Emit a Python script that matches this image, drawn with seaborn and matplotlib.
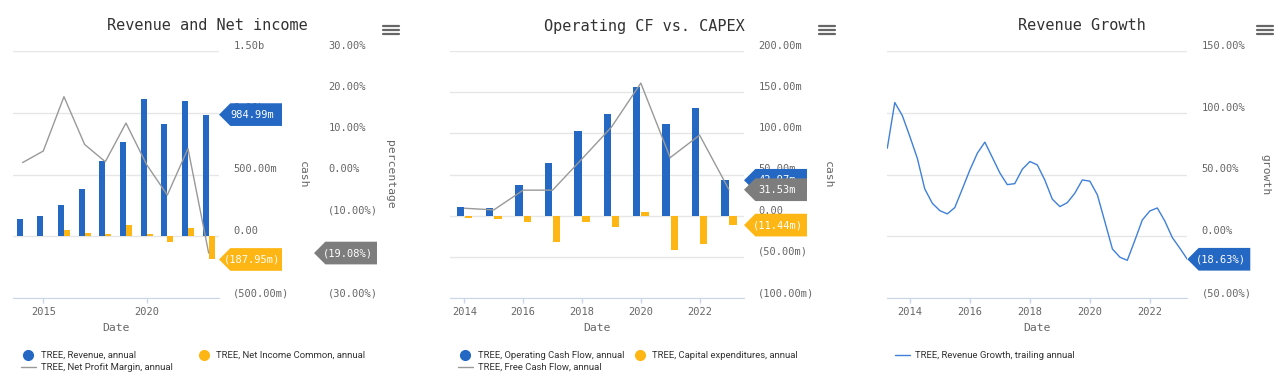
import numpy as np
import pandas as pd
import seaborn as sns
import matplotlib.pyplot as plt
from matplotlib.lines import Line2D
from matplotlib.path import Path
from matplotlib.transforms import ScaledTranslation

# %% data (cash in millions, ratios in percent)
years = [2014, 2015, 2016, 2017, 2018, 2019, 2020, 2021, 2022, 2023]
revenue = [138, 163, 254, 380, 612, 762, 1108, 905, 1098, 984.99]
net_income = [4, 3, 49, 30, 16, 95, 16, -43, 68, -187.95]
net_margin = [2.9, 5.7, 18.9, 7.3, 3.1, 12.5, 2.4, -5.0, 6.3, -19.08]

op_cf = [10.2, 9.0, 37, 64, 103, 123, 156, 111, 131, 42.97]
capex = [-2.4, -3.6, -7.3, -31.6, -8.0, -14.0, 4.5, -41.7, -35.0, -11.44]
fcf = [9, 7, 31, 31, 69, 107.5, 161, 70.5, 97.8, 31.53]

growth_dates = pd.date_range("2013-03-31", periods=41, freq="QE")
growth = [71.3, 108.3, 97.7, 80.7, 63.2, 38.3, 26.7, 20.7, 18.1, 23.2,
          38.3, 53.7, 67.3, 76.2, 63.7, 51.1, 41.8, 42.6, 54.3, 60.5,
          57.8, 45.6, 30.0, 24.0, 27.2, 34.8, 45.6, 44.6, 33.5, 11.8,
          -10.3, -17.0, -19.5, -3.5, 13.2, 20.5, 22.9, 12.4, -1.1, -9.7, -18.63]

BLUE = "#2468c4"
ORANGE = "#fdb614"
GRAY = "#999999"
BADGE_GRAY = "#7d7d7d"
LINE_BLUE = "#3f80d8"
TXT = "#666666"
MONO = "DejaVu Sans Mono"
LEG_FONT = ["Roboto", "DejaVu Sans"]

sns.set_style("white")
plt.rcParams["font.family"] = ["DejaVu Sans Mono", "DejaVu Sans"]

W, H = 1280, 379
fig = plt.figure(figsize=(12.8, 3.79), dpi=100)


def fx(px):
    return px / W


def fy(py):
    return 1 - py / H


def cash_fmt(v):
    if v == 0:
        return "0.00"
    a = abs(v)
    s = f"{a / 1000:.2f}b" if a >= 1000 else f"{a:.2f}m"
    return f"({s})" if v < 0 else s


def pct_fmt(v):
    if v == 0:
        return "0.00%"
    s = f"{abs(v):.2f}%"
    return f"({s})" if v < 0 else s


def tag(x0, y0, width, height, mutation_size):
    # fixed-size price tag, pointing left
    cx = x0 + width / 2
    cy = y0 + height / 2
    k = mutation_size / 10.42
    tip = cx - 33.5 * k
    half = 11.35 * k
    right = cx + 29.5 * k
    left = tip + half
    verts = [(left, cy - half), (right, cy - half), (right, cy + half),
             (left, cy + half), (tip, cy), (left, cy - half)]
    return Path(verts, closed=True)


def badge(ax, y, text, color, shift=0, host=None):
    host = host or ax
    ax.annotate(text, xy=(1, y), xycoords=host.get_yaxis_transform(),
                xytext=(shift + 33.5, 0), textcoords="offset pixels",
                ha="center", va="center", color="white", fontsize=7.5,
                family=MONO, zorder=20, annotation_clip=False,
                bbox=dict(boxstyle=tag, fc=color, ec="none"))


def right_ticks(ax, yticks, fmt):
    ax.yaxis.tick_right()
    ax.set_yticks(yticks)
    ax.set_yticklabels([fmt(t) for t in yticks])
    ax.tick_params(axis="y", length=0, pad=10.3, labelsize=7.5, labelcolor=TXT)
    for lab in ax.get_yticklabels():
        lab.set_transform(lab.get_transform() + ScaledTranslation(0, 0.06, fig.dpi_scale_trans))


def style_axes(ax, xticks, xlim, yticks, fmt):
    ax.set_xlim(*xlim)
    ax.set_ylim(yticks[0], yticks[-1])
    ax.set_xticks(xticks)
    ax.set_xticklabels([str(t) for t in xticks])
    right_ticks(ax, yticks, fmt)
    ax.grid(axis="y", color="#e6e6e6", lw=1)
    ax.grid(axis="x", visible=False)
    ax.set_axisbelow(True)
    for s in ["top", "left", "right"]:
        ax.spines[s].set_visible(False)
    ax.spines["bottom"].set_color("#ccd6eb")
    ax.tick_params(axis="x", length=3.6, width=1, color="#ccd6eb", pad=3,
                   labelsize=7.5, labelcolor=TXT, bottom=True)
    ax.set_xlabel("Date", fontsize=8.2, color=TXT, labelpad=4)
    ax.set_ylabel("")


def side_title(ax, x, text):
    ax.text(x, 0.5, text, transform=ax.transAxes, rotation=270, ha="center",
            va="center", fontsize=8.2, color=TXT)


def menu_icon(cx, cy):
    for dy in (-4.3, 0, 4.3):
        fig.add_artist(Line2D([fx(cx - 8), fx(cx + 8)], [fy(cy + dy)] * 2,
                              transform=fig.transFigure, color="#666666", lw=1.6))


def legend_block(x_px, handles, labels):
    leg = fig.legend(handles, labels, loc="upper left",
                     bbox_to_anchor=(fx(x_px), fy(351)), bbox_transform=fig.transFigure,
                     frameon=False, borderpad=0, borderaxespad=0, handlelength=1.55,
                     handletextpad=0.55, labelspacing=0.3,
                     prop={"family": LEG_FONT, "size": 6.8})
    for t in leg.get_texts():
        t.set_color("#333333")


dot = lambda c: Line2D([], [], marker="o", ls="", color=c, markersize=7)
dash = lambda c: Line2D([], [], color=c, lw=1)

ax_top, ax_h = fy(298), 247 / H

# %% panel 1: revenue and net income
ax1 = fig.add_axes([fx(13.3), ax_top, fx(205.7), ax_h])
ax1b = ax1.twinx()
df1 = pd.DataFrame({"year": years * 2,
                    "value": revenue + net_income,
                    "series": ["Revenue"] * len(years) + ["Net Income"] * len(years)})
sns.barplot(data=df1, x="year", y="value", hue="series", native_scale=True,
            width=0.58, gap=0, palette=[BLUE, ORANGE], saturation=1,
            legend=False, ax=ax1, linewidth=0)
style_axes(ax1, [2015, 2020], (2013.55, 2023.5), [-500, 0, 500, 1000, 1500], cash_fmt)

sns.lineplot(x=years, y=net_margin, color=GRAY, lw=1, ax=ax1b)
ax1b.set_ylim(-30, 30)
ax1b.spines["right"].set_position(("outward", 95 * 0.72))
right_ticks(ax1b, [-30, -20, -10, 0, 10, 20, 30], pct_fmt)
for s in ax1b.spines.values():
    s.set_visible(False)
ax1b.grid(False)
ax1b.set_ylabel("")
side_title(ax1, 1.408, "cash")
side_title(ax1, 1.831, "percentage")
# all tags on the twin so they sit above its line and labels
badge(ax1b, revenue[-1], cash_fmt(revenue[-1]), BLUE, host=ax1)
badge(ax1b, net_income[-1], cash_fmt(net_income[-1]), ORANGE, host=ax1)
badge(ax1b, net_margin[-1], pct_fmt(net_margin[-1]), BADGE_GRAY, shift=95)
fig.text(fx(207.5), fy(26), "Revenue and Net income", ha="center", va="center",
         fontsize=11, color="#333333")
menu_icon(391, 30)
legend_block(21, [dot(BLUE), dash(GRAY)],
             ["TREE, Revenue, annual", "TREE, Net Profit Margin, annual"])
legend_block(196.5, [dot(ORANGE)], ["TREE, Net Income Common, annual"])

# %% panel 2: operating cf vs capex
ax2 = fig.add_axes([fx(450), ax_top, fx(294), ax_h])
df2 = pd.DataFrame({"year": years * 2,
                    "value": op_cf + capex,
                    "series": ["Operating CF"] * len(years) + ["Capex"] * len(years)})
sns.barplot(data=df2, x="year", y="value", hue="series", native_scale=True,
            width=0.56, gap=0.1, palette=[BLUE, ORANGE], saturation=1,
            legend=False, ax=ax2, linewidth=0)
sns.lineplot(x=years, y=fcf, color=GRAY, lw=1, ax=ax2)
style_axes(ax2, [2014, 2016, 2018, 2020, 2022], (2013.51, 2023.51),
           [-100, -50, 0, 50, 100, 150, 200], cash_fmt)
side_title(ax2, 1.286, "cash")
badge(ax2, op_cf[-1], cash_fmt(op_cf[-1]), BLUE)
badge(ax2, fcf[-1], cash_fmt(fcf[-1]), BADGE_GRAY)
badge(ax2, capex[-1], cash_fmt(capex[-1]), ORANGE)
fig.text(fx(644), fy(26), "Operating CF vs. CAPEX", ha="center", va="center",
         fontsize=11, color="#333333")
menu_icon(827, 30)
legend_block(458, [dot(BLUE), dash(GRAY)],
             ["TREE, Operating Cash Flow, annual", "TREE, Free Cash Flow, annual"])
legend_block(632.5, [dot(ORANGE)], ["TREE, Capital expenditures, annual"])

# %% panel 3: revenue growth
gx = growth_dates.year + (growth_dates.dayofyear - 1) / 365.25
ax3 = fig.add_axes([fx(887.3), ax_top, fx(300), ax_h])
sns.lineplot(x=gx, y=growth, color=LINE_BLUE, lw=1, ax=ax3)
style_axes(ax3, [2014, 2016, 2018, 2020, 2022], (gx.min(), gx.max()),
           [-50, 0, 50, 100, 150], pct_fmt)
side_title(ax3, 1.259, "growth")
badge(ax3, growth[-1], pct_fmt(growth[-1]), BLUE)
fig.text(fx(1081.7), fy(26), "Revenue Growth", ha="center", va="center",
         fontsize=11, color="#333333")
menu_icon(1265, 30)
legend_block(895, [dash(LINE_BLUE)], ["TREE, Revenue Growth, trailing annual"])

fig.savefig("out.png", dpi=100, facecolor="white")
